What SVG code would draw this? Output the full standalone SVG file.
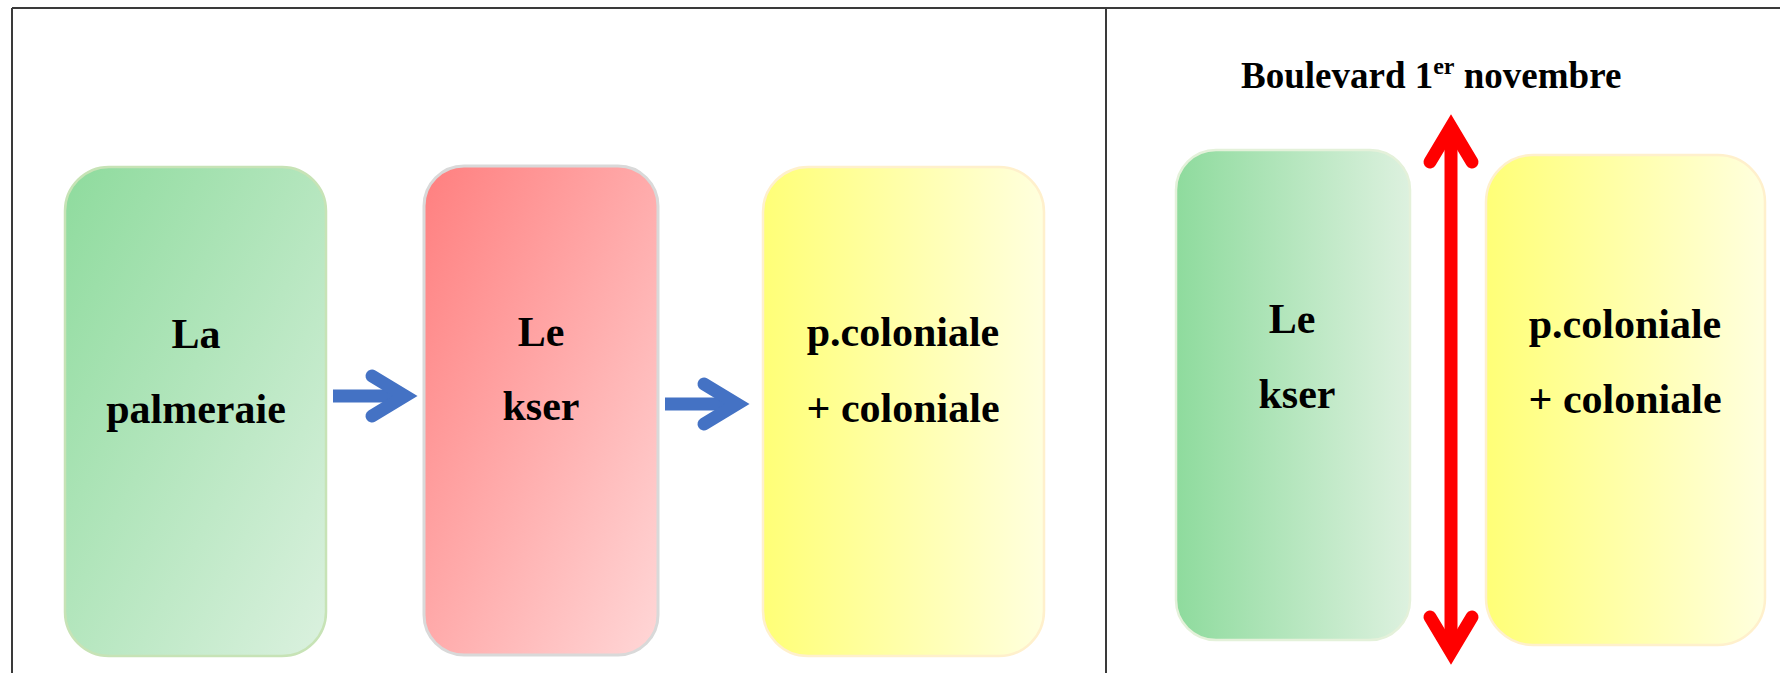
<svg xmlns="http://www.w3.org/2000/svg" width="1780" height="673" viewBox="0 0 1780 673">
<defs>
<linearGradient id="gGreenD" x1="0" y1="0" x2="1" y2="1"><stop offset="0" stop-color="#8EDB9D"/><stop offset="1" stop-color="#DBF1DF"/></linearGradient>
<linearGradient id="gRedD" x1="0" y1="0" x2="1" y2="1"><stop offset="0" stop-color="#FF7F7F"/><stop offset="1" stop-color="#FFD7D7"/></linearGradient>
<linearGradient id="gYellowH" x1="0" y1="0" x2="1" y2="0"><stop offset="0" stop-color="#FFFF77"/><stop offset="1" stop-color="#FFFFDE"/></linearGradient>
<linearGradient id="gGreenH" x1="0" y1="0" x2="1" y2="0"><stop offset="0" stop-color="#8EDB9D"/><stop offset="1" stop-color="#DDF1DF"/></linearGradient>
</defs>
<style>
.frame{stroke:#3a3a3a;stroke-width:2;fill:none}
.lbl{font-family:"Liberation Serif","Times New Roman",serif;font-weight:bold;font-size:42px;fill:#000;text-anchor:middle}
.title{font-family:"Liberation Serif","Times New Roman",serif;font-weight:bold;font-size:37px;fill:#000}
.blue{fill:none;stroke:#4472C4;stroke-width:13}
.red{fill:none;stroke:#FF0000;stroke-width:13}
.head{stroke-linecap:round;stroke-linejoin:miter;stroke-miterlimit:10}
</style>
<rect width="1780" height="673" fill="#fff"/>
<g id="frame">
<line class="frame" x1="12" y1="8" x2="1780" y2="8"/>
<line class="frame" x1="12" y1="8" x2="12" y2="673"/>
<line class="frame" x1="1106" y1="8" x2="1106" y2="673"/>
</g>
<g id="node-palmeraie">
<rect x="65" y="167" width="261" height="489" rx="44" ry="44" fill="url(#gGreenD)" stroke="#C7E3B6" stroke-width="2.5"/>
<text class="lbl" x="196" y="348">La</text>
<text class="lbl" x="196" y="423">palmeraie</text>
</g>
<g id="node-kser-left">
<rect x="424" y="166" width="234" height="489" rx="40" ry="40" fill="url(#gRedD)" stroke="#D9D9D9" stroke-width="3"/>
<text class="lbl" x="541" y="346">Le</text>
<text class="lbl" x="541" y="420">kser</text>
</g>
<g id="node-coloniale-left">
<rect x="763" y="167" width="281" height="489" rx="45" ry="45" fill="url(#gYellowH)" stroke="#FFF0CC" stroke-width="2.5"/>
<text class="lbl" x="903" y="346">p.coloniale</text>
<text class="lbl" x="903" y="422">+ coloniale</text>
</g>
<g id="node-kser-right">
<rect x="1176" y="150" width="234" height="490" rx="40" ry="40" fill="url(#gGreenH)" stroke="#E4F1DA" stroke-width="2.5"/>
<text class="lbl" x="1292" y="333">Le</text>
<text class="lbl" x="1297" y="408">kser</text>
</g>
<g id="node-coloniale-right">
<rect x="1486" y="155" width="279" height="490" rx="47" ry="47" fill="url(#gYellowH)" stroke="#FFF0CC" stroke-width="2.5"/>
<text class="lbl" x="1625" y="338">p.coloniale</text>
<text class="lbl" x="1625" y="413">+ coloniale</text>
</g>
<g id="label-boulevard">
<text class="title" x="1241" y="88">Boulevard 1<tspan font-size="24" dy="-14">er</tspan><tspan dy="14"> novembre</tspan></text>
</g>
<g id="connectors">
<line class="blue" x1="333" y1="396" x2="405" y2="396"/>
<polyline class="blue head" points="372,376 405,396 372,416"/>
<line class="blue" x1="665" y1="404" x2="737" y2="404"/>
<polyline class="blue head" points="704,384 737,404 704,424"/>
<line class="red" x1="1451" y1="127" x2="1451" y2="652"/>
<polyline class="red head" points="1430,162 1451,127 1472,162"/>
<polyline class="red head" points="1430,617 1451,652 1472,617"/>
</g>
</svg>
